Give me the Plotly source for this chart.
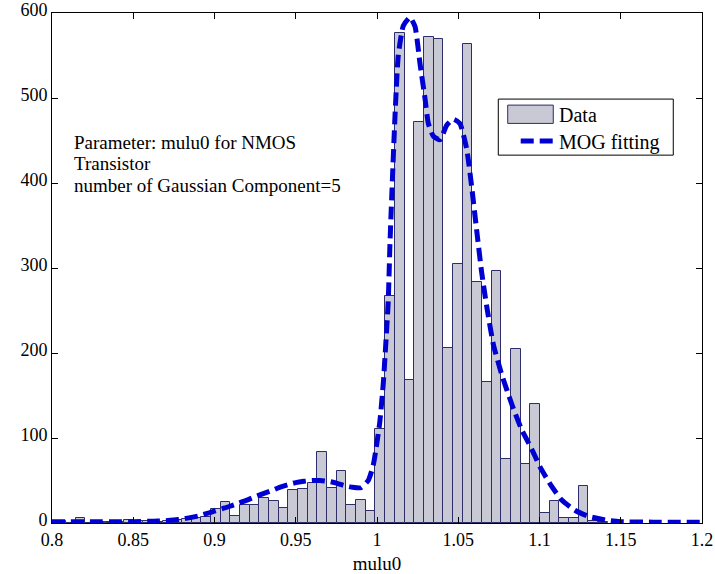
import plotly.graph_objects as go

# ---------------- data ----------------
bin_start = 0.80259      # left edge of first histogram bin
bin_width = 0.005954     # histogram bin width
counts = [2, 0, 6, 0, 1, 1, 1, 3, 2, 2, 1, 2, 4, 5, 6, 7,
          16, 25, 8, 21, 21, 30, 26, 18, 39, 40, 47, 83, 41, 61, 21, 27,
          14, 111, 267, 577, 168, 472, 572, 569, 206, 305, 564, 284, 166, 297, 75, 205,
          69, 140, 12, 26, 6, 6, 43, 2, 1]

fit_x = [0.800, 0.810, 0.820, 0.830, 0.840, 0.850, 0.860, 0.865, 0.870, 0.875,
         0.880, 0.885, 0.890, 0.895, 0.900, 0.905, 0.910, 0.915, 0.920, 0.925,
         0.930, 0.935, 0.940, 0.945, 0.950, 0.955, 0.960, 0.965, 0.970, 0.975,
         0.980, 0.985, 0.990, 0.9946, 0.9977, 1.0000, 1.0018, 1.0039, 1.0049, 1.0069,
         1.0080, 1.0111, 1.0131, 1.0162, 1.0203, 1.0234, 1.0265, 1.0295, 1.0316, 1.0347,
         1.0388, 1.0429, 1.0470, 1.0510, 1.0552, 1.0583, 1.0613, 1.0644, 1.0675, 1.0716,
         1.0767, 1.0829, 1.0890, 1.0952, 1.1003, 1.1075, 1.1137, 1.1218, 1.1300, 1.1423,
         1.1500, 1.1700, 1.2000]
fit_y = [1.5, 1.5, 1.5, 1.5, 1.5, 1.5, 2, 2.3, 2.7, 3.5,
         4.7, 6.3, 8.3, 11, 14, 17, 20, 23.5, 27, 31,
         34.5, 38, 42, 45, 47.5, 49, 50, 50, 49, 47,
         44, 42, 41.5, 50, 68, 95, 120, 165, 195, 260,
         330, 480, 550, 585, 595, 584, 540, 500, 470, 455,
         451, 468, 475, 470, 440, 395, 345, 295, 255, 210,
         175, 140, 110, 87, 66, 43, 27, 15, 8, 3,
         1.5, 1, 1]

x_ticks = [0.8, 0.85, 0.9, 0.95, 1, 1.05, 1.1, 1.15, 1.2]
x_tick_text = ["0.8", "0.85", "0.9", "0.95", "1", "1.05", "1.1", "1.15", "1.2"]
y_ticks = [0, 100, 200, 300, 400, 500, 600]

info_lines = ["Parameter: mulu0 for NMOS", "Transistor", "number of Gaussian Component=5"]
legend_labels = ["Data", "MOG fitting"]
x_label = "mulu0"

# ---------------- styles ----------------
BAR_FILL = "rgb(200,201,212)"
BAR_EDGE = "rgb(45,45,105)"
FIT_COLOR = "rgb(0,0,210)"
FONT = "Liberation Serif"

centers = [bin_start + bin_width * (i + 0.5) for i in range(len(counts))]

fig = go.Figure()
fig.add_trace(go.Bar(
    x=centers, y=counts, width=bin_width,
    marker=dict(color=BAR_FILL, line=dict(color=BAR_EDGE, width=1)),
    name=legend_labels[0], showlegend=False,
))
fig.add_trace(go.Scatter(
    x=fit_x, y=fit_y, mode="lines",
    line=dict(color=FIT_COLOR, width=5, dash="13px,6px", shape="spline", smoothing=0.5),
    name=legend_labels[1], showlegend=False,
))

axis_common = dict(
    showline=True, linecolor="black", linewidth=1, mirror="ticks", automargin=False,
    ticks="inside", ticklen=6, tickcolor="black", showgrid=False, zeroline=False,
    tickfont=dict(family=FONT, size=18, color="black"),
)
fig.update_xaxes(range=[0.8, 1.2], tickvals=x_ticks, ticktext=x_tick_text,
                 title=dict(text=x_label, font=dict(family=FONT, size=19, color="black")),
                 **axis_common)
fig.update_yaxes(range=[0, 600], tickvals=y_ticks, ticklabelshift=-3, **axis_common)

# text block
line_y = [0.7468, 0.7056, 0.6624]
for txt, yy in zip(info_lines, line_y):
    fig.add_annotation(xref="paper", yref="paper", x=0.031, y=yy, text=txt,
                       showarrow=False, xanchor="left", yanchor="middle",
                       font=dict(family=FONT, size=19, color="black"))

# manual legend
fig.add_shape(type="rect", xref="paper", yref="paper", x0=0.6866, x1=0.9558, y0=0.7213, y1=0.8312,
              line=dict(color="black", width=1), fillcolor="white", layer="above")
fig.add_shape(type="rect", xref="paper", yref="paper", x0=0.7011, x1=0.7712, y0=0.7835, y1=0.8194,
              line=dict(color=BAR_EDGE, width=1), fillcolor=BAR_FILL, layer="above")
fig.add_shape(type="line", xref="paper", yref="paper", x0=0.7211, x1=0.7712, y0=0.7488, y1=0.7488,
              line=dict(color=FIT_COLOR, width=5, dash="13px,6px"), layer="above")
fig.add_annotation(xref="paper", yref="paper", x=0.7769, y=0.7998, text=legend_labels[0],
                   showarrow=False, xanchor="left", yanchor="middle",
                   font=dict(family=FONT, size=20, color="black"))
fig.add_annotation(xref="paper", yref="paper", x=0.7769, y=0.7468, text=legend_labels[1],
                   showarrow=False, xanchor="left", yanchor="middle",
                   font=dict(family=FONT, size=20, color="black"))

fig.update_layout(
    width=715, height=574,
    margin=dict(l=52, r=13, t=13, b=51),
    paper_bgcolor="white", plot_bgcolor="white",
    bargap=0, showlegend=False,
    font=dict(family=FONT, color="black"),
)
fig.write_html("out.html", config={"displayModeBar": False},
               post_script="document.body.style.margin='0px';document.body.style.overflow='hidden';")
